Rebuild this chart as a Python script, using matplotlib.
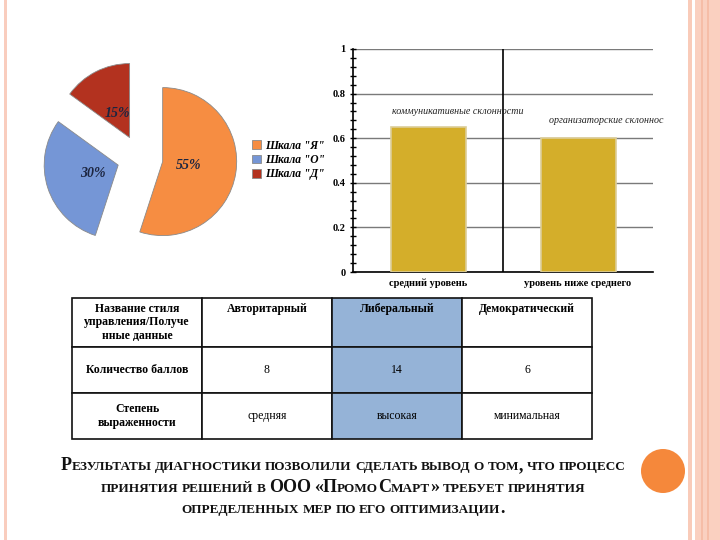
import numpy as np
import matplotlib
matplotlib.use('Agg')
import matplotlib.pyplot as plt
from matplotlib.patches import Rectangle, Circle
from matplotlib.transforms import Bbox, TransformedBbox

W, H = 720, 540
SERIF = 'Liberation Serif'

# pie: scales
scale_labels = ['Шкала "Я"', 'Шкала "О"', 'Шкала "Д"']
scale_share = [55, 30, 15]
scale_colors = ['#F68D42', '#7596D6', '#B3321F']

# bars: levels
level_labels = ['средний уровень', 'уровень ниже среднего']
level_values = [0.65, 0.60]
level_notes = ['коммуникативные склонности', 'организаторские склонности']
y_ticks = [0, 0.2, 0.4, 0.6, 0.8, 1]

# table
table_header = ['Название стиля\nуправления/Получе\nнные данные',
                'Авторитарный', 'Либеральный', 'Демократический']
row_names = ['Количество баллов', 'Степень\nвыраженности']
style_scores = ['8', '14', '6']
style_degree = ['средняя', 'высокая', 'минимальная']
highlight_col = 2

conclusion = ['Результаты диагностики позволили сделать вывод о том, что процесс',
              'принятия решений в ООО «ПромоСмарт» требует принятия',
              'определенных мер по его оптимизации.']

fig = plt.figure(figsize=(W / 100, H / 100), dpi=100)


def px_axes(x, y, w, h, **kw):
    return fig.add_axes([x / W, 1 - (y + h) / H, w / W, h / H], **kw)


# slide decorations
deco = px_axes(0, 0, W, H, zorder=-5)
deco.set_xlim(0, W)
deco.set_ylim(H, 0)
deco.axis('off')
deco.add_patch(Rectangle((4, 0), 3, H, color='#F9CDBE', lw=0))
deco.add_patch(Rectangle((688, 0), 4, H, color='#F9CBB9', lw=0))
deco.add_patch(Rectangle((695, 0), 25, H, color='#FAD0C0', lw=0))
deco.add_patch(Rectangle((701, 0), 2, H, color='#F6BDA7', lw=0))
deco.add_patch(Rectangle((707, 0), 2, H, color='#F6BDA7', lw=0))
deco.add_patch(Circle((663, 471), 22, color='#F5883B', lw=0))

# pie chart
R = 74.0
ax = px_axes(40, 58, 200, 200)
wedges, _, autotexts = ax.pie(
    scale_share, explode=[0.31] * len(scale_share), colors=scale_colors,
    startangle=90, counterclock=False, autopct=lambda p: '%d%%' % round(p),
    pctdistance=0.36, wedgeprops=dict(lw=0.6, edgecolor='#8a8a8a'),
    textprops=dict(family=SERIF, weight='bold', style='italic',
                   fontsize=10, color='#1C2540'))
ax.set_xlim(-100 / R, 100 / R)
ax.set_ylim(-100 / R, 100 / R)
ax.set_aspect('equal')

fig.legend(wedges, scale_labels, loc='upper left',
           bbox_to_anchor=(247 / W, 1 - 135 / H), frameon=False,
           handlelength=0.8, handleheight=0.8, handletextpad=0.35,
           labelspacing=0.2, borderaxespad=0,
           prop=dict(family=SERIF, weight='bold', style='italic', size=8.3))

# bar chart
bx = px_axes(353, 49, 300, 223)
x = np.arange(len(level_values))
bx.bar(x, level_values, width=0.5, color='#D4AE2A', edgecolor='#DCCD98', lw=1.2, zorder=3)
bx.set_xlim(-0.5, 1.5)
bx.set_ylim(0, 1)
bx.set_yticks(y_ticks)
bx.set_yticklabels(['%g' % v for v in y_ticks])
bx.set_yticks(np.arange(0, 1.0001, 0.04), minor=True)
bx.yaxis.grid(True, which='major', color='#7a7a7a', lw=1.0)
bx.set_axisbelow(True)
bx.axvline(0.5, color='black', lw=1.2)
for s in ['top', 'right']:
    bx.spines[s].set_visible(False)
for s in ['left', 'bottom']:
    bx.spines[s].set_linewidth(1.2)
bx.tick_params(axis='y', which='both', direction='inout', length=5, width=1, pad=3)
bx.tick_params(axis='y', which='major', labelsize=7.5)
bx.tick_params(axis='x', length=0, pad=5, labelsize=7.5)
bx.set_xticks(x)
bx.set_xticklabels(level_labels)
for t in bx.get_yticklabels() + bx.get_xticklabels():
    t.set_family(SERIF)
    t.set_weight('bold')
note_clip = TransformedBbox(Bbox([[0, 0], [1.035, 1]]), bx.transAxes)
for i, (v, note) in enumerate(zip(level_values, level_notes)):
    t = bx.text(i + 0.2 + 0.03 * i, v + 0.07 + 0.008 * i, note, ha='center', va='center',
                family=SERIF, style='italic', fontsize=7.2, color='#222222')
    t.set_clip_box(note_clip)
    t.set_clip_on(True)

# table
tx = px_axes(72, 298, 520, 141)
tx.axis('off')
cells = [[h + ('\n\n' if j else '') for j, h in enumerate(table_header)],
         [row_names[0]] + style_scores,
         [row_names[1]] + style_degree]
colors = [['#95B3D7' if j == highlight_col else 'white' for j in range(4)] for _ in cells]
tab = tx.table(cellText=cells, cellColours=colors, cellLoc='center', bbox=[0, 0, 1, 1])
tab.auto_set_font_size(False)
heights = [49, 46, 46]
for (r, c), cell in tab.get_celld().items():
    cell.set_height(heights[r])
    cell.set_linewidth(1.2)
    cell.set_edgecolor('#111111')
    txt = cell.get_text()
    txt.set_family(SERIF)
    txt.set_fontsize(8.5)
    if r == 0 or c == 0:
        txt.set_weight('bold')

# conclusion in small caps
renderer = fig.canvas.get_renderer()


def smallcaps_line(line, y_px, cx_px, big=13, small=9.5):
    kw = dict(family=SERIF, weight='bold', color='#111111', va='baseline', ha='left')
    probe = fig.text(0, 0, 'Н Н', fontsize=small, **kw)
    probe2 = fig.text(0, 0, 'НН', fontsize=small, **kw)
    sp = probe.get_window_extent(renderer).width - probe2.get_window_extent(renderer).width
    probe.remove()
    probe2.remove()
    pieces, pos = [], 0.0
    for word in line.split(' '):
        runs = []
        for ch in word:
            low = ch.islower()
            if runs and runs[-1][1] == low:
                runs[-1][0] += ch
            else:
                runs.append([ch, low])
        for run, low in runs:
            t = fig.text(0, 1 - y_px / H, run.upper() if low else run,
                         fontsize=small if low else big, **kw)
            pieces.append((t, pos))
            pos += t.get_window_extent(renderer).width
        pos += sp
    pos -= sp
    x0 = cx_px - pos / 2
    for t, dx in pieces:
        t.set_x((x0 + dx) / W)


for line, y in zip(conclusion, [470, 492, 513]):
    smallcaps_line(line, y, 343)

fig.savefig('out.png', dpi=100)
